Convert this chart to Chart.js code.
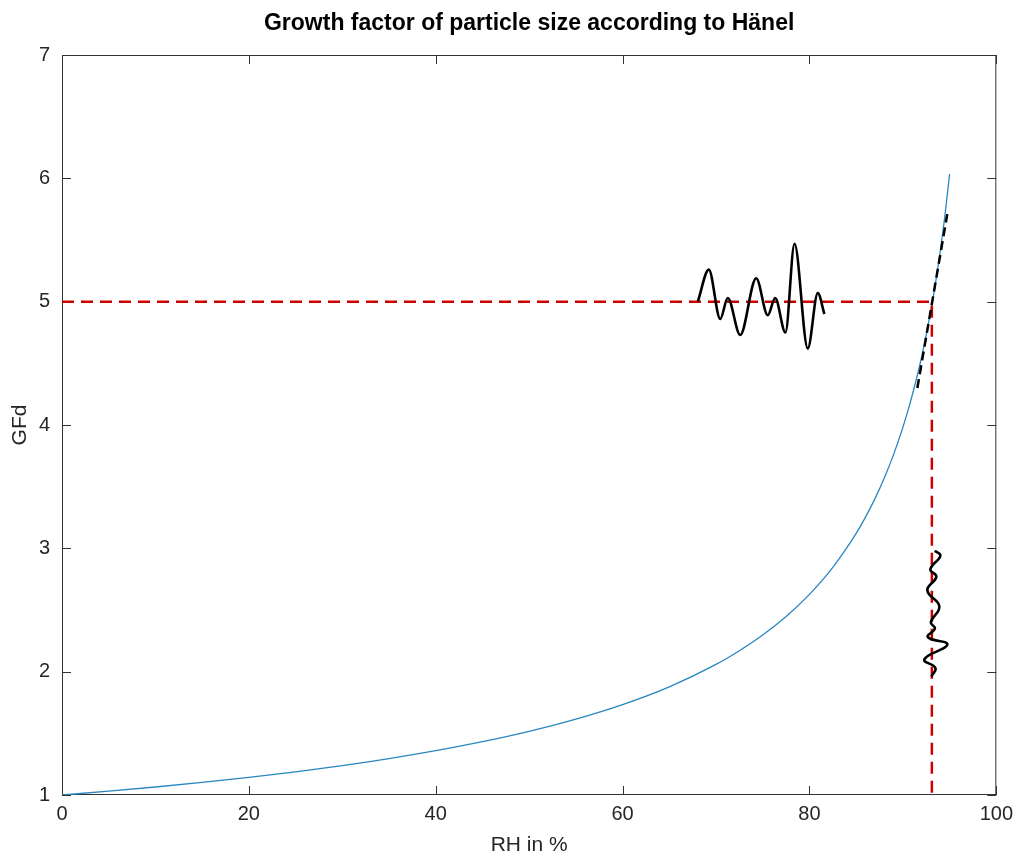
<!DOCTYPE html>
<html>
<head>
<meta charset="utf-8">
<title>Growth factor of particle size according to Hänel</title>
<script src="https://cdn.jsdelivr.net/npm/chart.js@4.4.1/dist/chart.umd.min.js"></script>
<style>
    html, body { margin: 0; padding: 0; background: #ffffff; }
    #wrap { width: 1020px; height: 858px; position: relative; }
</style>
</head>
<body>
<div id="wrap"><canvas id="chart"></canvas></div>
<script>
// RH in % and growth factor
const rhValues = [0, 5, 10, 15, 20, 25, 30, 35, 40, 45, 50, 55, 60, 65, 70, 72.5, 75, 77.5, 80,
    82.5, 85, 86, 87, 88, 89, 90, 90.5, 91, 91.5, 92, 92.5, 93, 93.5, 94, 94.5, 95];
const gfdValues = [1.000, 1.031, 1.065, 1.102, 1.143, 1.188, 1.239, 1.295, 1.359, 1.432, 1.516, 1.615, 1.733, 1.877, 2.059, 2.170, 2.297, 2.447, 2.627,
    2.846, 3.121, 3.253, 3.401, 3.569, 3.760, 3.981, 4.106, 4.241, 4.389, 4.551, 4.731, 4.931, 5.155, 5.409, 5.699, 6.034];

// red dashed guide lines (GFd = 5 and the RH where it is reached)
const guideX = [0, 93.1, 93.1];
const guideY = [5, 5, 1];

// black dashed tangent
const tangentX = [91.55, 94.75];
const tangentY = [4.30, 5.71];

// wiggle along the horizontal guide
const wiggleHx = [68.05, 69.23, 70.45, 71.26, 72.59, 74.30, 75.54, 76.33, 77.43, 78.40, 79.82, 80.89, 81.60];
const wiggleHy = [5.00, 5.26, 4.86, 5.03, 4.73, 5.19, 4.89, 5.03, 4.75, 5.47, 4.62, 5.07, 4.90];

// wiggle along the vertical guide
const wiggleVx = [93.42, 94.01, 92.94, 93.58, 92.62, 93.90, 92.99, 93.42, 92.67, 94.76, 92.30, 93.48, 93.05];
const wiggleVy = [2.98, 2.94, 2.83, 2.77, 2.66, 2.53, 2.40, 2.35, 2.28, 2.22, 2.10, 2.03, 1.96];

const xTicks = [0, 20, 40, 60, 80, 100];
const yTicks = [1, 2, 3, 4, 5, 6, 7];

function toPoints(xs, ys) {
    return xs.map((x, i) => ({ x: x, y: ys[i] }));
}

// box round the plot with ticks pointing inwards on all four sides
const boxTicks = {
    id: 'boxTicks',
    beforeDatasetsDraw(chart) {
        const { ctx, chartArea: a, scales } = chart;
        const len = 9;
        ctx.save();
        ctx.strokeStyle = '#333333';
        ctx.lineWidth = 1;
        ctx.strokeRect(a.left + 0.5, a.top + 0.5, a.right - a.left - 1, a.bottom - a.top - 1);
        ctx.beginPath();
        xTicks.forEach(v => {
            const px = Math.round(scales.x.getPixelForValue(v)) + 0.5;
            ctx.moveTo(px, a.bottom);
            ctx.lineTo(px, a.bottom - len);
            ctx.moveTo(px, a.top);
            ctx.lineTo(px, a.top + len);
        });
        yTicks.forEach(v => {
            const py = Math.round(scales.y.getPixelForValue(v)) + 0.5;
            ctx.moveTo(a.left, py);
            ctx.lineTo(a.left + len, py);
            ctx.moveTo(a.right, py);
            ctx.lineTo(a.right - len, py);
        });
        ctx.stroke();
        ctx.restore();
    }
};

const fontFamily = "'Liberation Sans', Arial, sans-serif";
const tickFont = { family: fontFamily, size: 20 };

new Chart(document.getElementById('chart'), {
    type: 'line',
    data: {
        datasets: [{
            label: 'GFd',
            data: toPoints(rhValues, gfdValues),
            borderColor: '#2a86c1',
            borderWidth: 1.3,
            pointRadius: 0,
            cubicInterpolationMode: 'monotone',
            order: 5
        }, {
            label: 'guide',
            data: toPoints(guideX, guideY),
            borderColor: '#cc0000',
            borderWidth: 2.5,
            borderDash: [12, 7],
            pointRadius: 0,
            tension: 0,
            order: 4
        }, {
            label: 'tangent',
            data: toPoints(tangentX, tangentY),
            borderColor: '#000000',
            borderWidth: 2.5,
            borderDash: [9, 5],
            pointRadius: 0,
            tension: 0,
            order: 3
        }, {
            label: 'wiggle h',
            data: toPoints(wiggleHx, wiggleHy),
            borderColor: '#000000',
            borderWidth: 2.6,
            pointRadius: 0,
            cubicInterpolationMode: 'monotone',
            order: 2
        }, {
            label: 'wiggle v',
            data: toPoints(wiggleVx, wiggleVy),
            borderColor: '#000000',
            borderWidth: 2.6,
            pointRadius: 0,
            tension: 0.45,
            order: 1
        }]
    },
    options: {
        responsive: true,
        maintainAspectRatio: false,
        animation: false,
        events: [],
        layout: {
            padding: { left: 0, right: 23, top: 0, bottom: 0 }
        },
        plugins: {
            legend: { display: false },
            tooltip: { enabled: false },
            title: {
                display: true,
                fullSize: false,
                text: 'Growth factor of particle size according to Hänel',
                color: '#000000',
                font: { family: fontFamily, size: 23, weight: 'bold', lineHeight: 1.2 },
                padding: { top: 10, bottom: 17.4 }
            }
        },
        scales: {
            x: {
                type: 'linear',
                min: 0,
                max: 100,
                afterFit: s => { s.height = 63; },
                afterBuildTicks: s => { s.ticks = xTicks.map(v => ({ value: v })); },
                grid: { display: false, drawTicks: false },
                border: { display: false },
                ticks: { color: '#262626', font: tickFont, padding: 7, maxRotation: 0 },
                title: {
                    display: true,
                    text: 'RH in %',
                    color: '#262626',
                    font: { family: fontFamily, size: 21, lineHeight: 1.2 },
                    padding: { top: 0, bottom: 0.5 }
                }
            },
            y: {
                type: 'linear',
                min: 1,
                max: 7,
                afterFit: s => { s.width = 62; },
                afterBuildTicks: s => { s.ticks = yTicks.map(v => ({ value: v })); },
                grid: { display: false, drawTicks: false },
                border: { display: false },
                ticks: { color: '#262626', font: tickFont, padding: 12 },
                title: {
                    display: true,
                    text: 'GFd',
                    color: '#262626',
                    font: { family: fontFamily, size: 21, lineHeight: 1.2 },
                    padding: { top: 7.4, bottom: 0 }
                }
            }
        }
    },
    plugins: [boxTicks]
});
</script>
</body>
</html>
